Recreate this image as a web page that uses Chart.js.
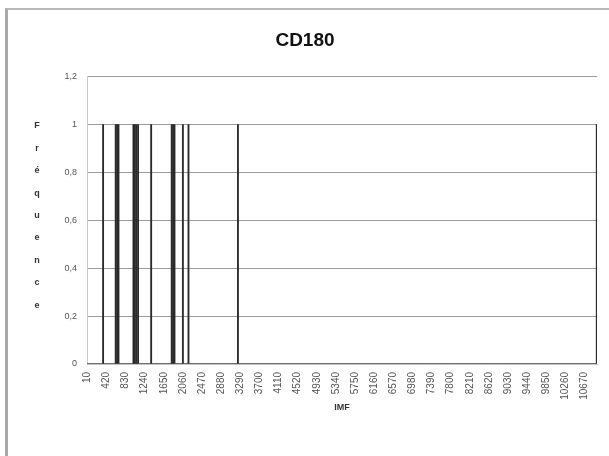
<!DOCTYPE html>
<html>
<head>
<meta charset="utf-8">
<script src="https://cdn.jsdelivr.net/npm/chart.js@4.4.1/dist/chart.umd.min.js"></script>
<style>
  html, body { margin: 0; padding: 0; background: #fff; }
  #wrap { position: relative; width: 609px; height: 456px; overflow: hidden; }
  #frame { position: absolute; left: 5px; top: 8px; right: -10px; bottom: -10px;
           border-left: 3px solid #a9a9a9; border-top: 2px solid #b8b8b8; }
  canvas { position: absolute; left: 0; top: 0; }
</style>
</head>
<body>
<div id="wrap">
  <div id="frame"></div>
  <canvas id="c" width="609" height="456"></canvas>
</div>
<script>
  // IMF bins: 10, 20, ... 10930 (one category per bin)
  const firstBin = 10;
  const binStep = 10;
  const binCount = 1093;
  // IMF bins whose frequency is 1 (all the others are 0)
  const imfHits = [350, 620, 650, 680, 1000, 1030, 1060, 1100, 1380,
                   1820, 1850, 1880, 2060, 2180, 3240, 10930];
  const labelEvery = 41;
  const yTitleLetters = ['F', 'r', 'é', 'q', 'u', 'e', 'n', 'c', 'e'];

  const categories = [];
  for (let i = 0; i < binCount; i++) categories.push(String(firstBin + i * binStep));
  const frequences = categories.map((c) => (imfHits.includes(Number(c)) ? 1 : 0));

  const font = "'Liberation Sans', Arial, sans-serif";
  const fmt = (v) => String(Number(v.toFixed(1))).replace('.', ',');

  // vertical stacked axis title, letter by letter, like the original
  const stackedTitle = {
    id: 'stackedTitle',
    afterDraw(chart) {
      const ctx = chart.ctx;
      ctx.save();
      ctx.font = 'bold 9px ' + font;
      ctx.fillStyle = '#333';
      ctx.textAlign = 'center';
      ctx.textBaseline = 'middle';
      yTitleLetters.forEach((ch, i) => ctx.fillText(ch, 37, 126 + i * 22.4));
      ctx.restore();
    }
  };

  new Chart(document.getElementById('c'), {
    type: 'bar',
    data: {
      labels: categories,
      datasets: [{
        label: 'Fréquence',
        data: frequences,
        backgroundColor: '#2a2a2a',
        borderWidth: 0,
        barThickness: 1.2
      }]
    },
    options: {
      responsive: false,
      animation: false,
      events: [],
      layout: { padding: { left: 13, right: 12, top: 10, bottom: 40 } },
      plugins: {
        legend: { display: false },
        tooltip: { enabled: false },
        title: {
          display: true,
          text: 'CD180',
          color: '#111',
          font: { family: font, size: 19, weight: 'bold' },
          padding: { top: 19, bottom: 25 }
        }
      },
      scales: {
        x: {
          grid: { display: false },
          border: { display: true, color: '#c4c4c4' },
          afterBuildTicks: (s) => { s.ticks = s.ticks.filter((t) => t.value % labelEvery === 0); },
          afterFit: (s) => { s.height = 52; },
          ticks: {
            autoSkip: false, minRotation: 90, maxRotation: 90, padding: 0,
            color: '#555', font: { family: font, size: 10 }
          },
          title: {
            display: true, text: 'IMF', color: '#333',
            font: { family: font, size: 9, weight: 'bold' }, padding: { top: 0, bottom: 3 }
          }
        },
        y: {
          min: 0, max: 1.2,
          afterFit: (s) => { s.width = 74; },
          grid: { color: '#9c9c9c', drawTicks: false },
          border: { display: true, color: '#c8c8c8' },
          ticks: {
            stepSize: 0.2, padding: 10, color: '#555',
            font: { family: font, size: 9 },
            callback: (v) => fmt(v)
          }
        }
      }
    },
    plugins: [stackedTitle]
  });
</script>
</body>
</html>
